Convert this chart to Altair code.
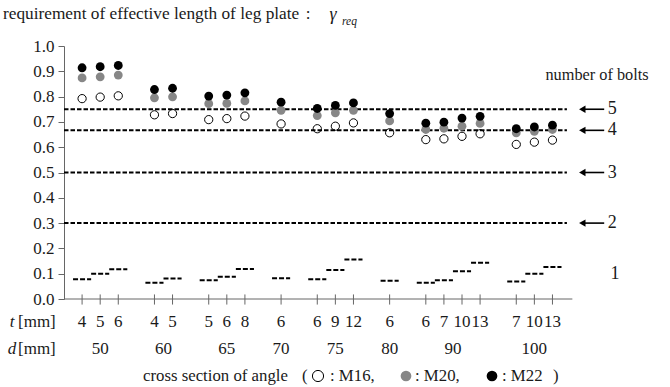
import altair as alt
import pandas as pd

# ---------------- data ----------------
d_groups = [50, 60, 65, 70, 75, 80, 90, 100]
t_groups = [[4, 5, 6], [4, 5], [5, 6, 8], [6], [6, 9, 12], [6], [6, 7, 10, 13], [7, 10, 13]]

m16 = [0.792, 0.798, 0.803, 0.728, 0.733, 0.709, 0.713, 0.723, 0.692,
       0.673, 0.683, 0.696, 0.657, 0.630, 0.633, 0.643, 0.653, 0.611, 0.620, 0.628]
m20 = [0.874, 0.878, 0.885, 0.795, 0.799, 0.772, 0.773, 0.783, 0.746,
       0.725, 0.736, 0.746, 0.704, 0.670, 0.675, 0.683, 0.694, 0.657, 0.663, 0.670]
m22 = [0.914, 0.918, 0.923, 0.828, 0.833, 0.802, 0.806, 0.815, 0.778,
       0.753, 0.765, 0.775, 0.733, 0.695, 0.699, 0.715, 0.722, 0.673, 0.680, 0.687]
one_bolt = [0.078, 0.100, 0.118, 0.064, 0.081, 0.074, 0.088, 0.119, 0.082,
            0.078, 0.115, 0.156, 0.072, 0.064, 0.074, 0.110, 0.143, 0.069, 0.100, 0.126]

bolt_levels = [0.75, 2 / 3, 0.5, 0.3]
bolt_labels = ["5", "4", "3", "2"]
one_bolt_label = "1"
one_bolt_label_y = 0.097
y_ticks = [round(i * 0.1, 1) for i in range(11)]

# ---------------- derived tables ----------------
pos, t_flat, d_center = [], [], []
p = 1
for ts in t_groups:
    start = p
    for t in ts:
        pos.append(p)
        t_flat.append(str(t))
        p += 1
    d_center.append((start + p - 1) / 2)
    p += 1

pts = pd.DataFrame({"pos": pos, "m16": m16, "m20": m20, "m22": m22,
                    "one": one_bolt, "t": t_flat})
pts["a"] = pts["pos"] - 0.5
pts["b"] = pts["pos"] + 0.5
pts["lo"] = -0.022
pts["hi"] = 0.018
dlab = pd.DataFrame({"x": d_center, "d": [str(d) for d in d_groups]})
levels = pd.DataFrame({"lvl": bolt_levels, "lab": bolt_labels, "x0": 0.0, "x1": 27.8,
                       "ax0": 28.65, "ax1": 29.86, "tx": 30.3})
extra = pd.DataFrame({"lab": [one_bolt_label], "lvl": [one_bolt_label_y], "tx": [30.46]})
axis_df = pd.DataFrame({"x0": [0.0], "x1": [28.1], "y": [0.0]})

FONT = "Liberation Serif"
TXT = "#1a1a1a"
AX = "#666666"

xs = alt.Scale(domain=[0, 33], nice=False)
ys = alt.Scale(domain=[0, 1], nice=False)
YAXIS = alt.Axis(values=y_ticks, format=".1f", grid=False,
                 tickSize=6, tickColor=AX, domainColor=AX,
                 labelFont=FONT, labelFontSize=17, labelColor=TXT,
                 labelPadding=4)


def X(f):
    return alt.X(f, scale=xs, axis=None, title=None)


def Y(f):
    return alt.Y(f, scale=ys, title=None, axis=YAXIS)


one = pd.DataFrame({"k": [0]})

# ---------------- layers ----------------
xaxis_line = alt.Chart(axis_df).mark_rule(color=AX, strokeWidth=1).encode(
    x=X("x0:Q"), x2="x1", y=Y("y:Q"))
xticks = alt.Chart(pts).mark_rule(color=AX, strokeWidth=1).encode(
    x=X("pos:Q"), y=Y("lo:Q"), y2="hi:Q")

dashed = alt.Chart(levels).mark_rule(color="black", strokeWidth=2, strokeDash=[4.5, 2]).encode(
    x=X("x0:Q"), x2="x1", y=Y("lvl:Q"))
arrows = alt.Chart(levels).mark_rule(color="black", strokeWidth=1.6).encode(
    x=X("ax0:Q"), x2="ax1", y=Y("lvl:Q"))
heads = alt.Chart(levels).mark_point(shape="triangle-left", filled=True, color="black",
                                     size=55, opacity=1).encode(
    x=X("ax0:Q"), y=Y("lvl:Q"))
lvl_text = alt.Chart(levels).mark_text(font=FONT, fontSize=18, color=TXT, align="center",
                                       baseline="middle").encode(
    x=X("tx:Q"), y=Y("lvl:Q"), text="lab:N")
one_text = alt.Chart(extra).mark_text(font=FONT, fontSize=18, color=TXT, align="center",
                                      baseline="middle").encode(
    x=X("tx:Q"), y=Y("lvl:Q"), text="lab:N")

onebolt = alt.Chart(pts).mark_rule(color="black", strokeWidth=2, strokeDash=[5, 2]).encode(
    x=X("a:Q"), x2="b", y=Y("one:Q"))

p16 = alt.Chart(pts).mark_point(shape="circle", filled=False, color="black", stroke="black",
                                strokeWidth=1, size=68, opacity=1).encode(
    x=X("pos:Q"), y=Y("m16:Q"))
p20 = alt.Chart(pts).mark_circle(color="#878787", size=78, opacity=1).encode(
    x=X("pos:Q"), y=Y("m20:Q"))
p22 = alt.Chart(pts).mark_circle(color="black", size=78, opacity=1).encode(
    x=X("pos:Q"), y=Y("m22:Q"))

t_text = alt.Chart(pts).mark_text(font=FONT, fontSize=17, color=TXT, baseline="middle").encode(
    x=X("pos:Q"), y=alt.value(276), text="t:N")
d_text = alt.Chart(dlab).mark_text(font=FONT, fontSize=17, color=TXT, baseline="middle").encode(
    x=X("x:Q"), y=alt.value(303), text="d:N")


def label(text, x, y, size=17, align="left", style="normal", color=TXT):
    return alt.Chart(one).mark_text(text=text, font=FONT, fontSize=size, color=color,
                                    align=align, baseline="middle", fontStyle=style).encode(
        x=alt.value(x), y=alt.value(y))


def sym(x, y, filled, color, size=125):
    if filled:
        m = alt.Chart(one).mark_circle(color=color, size=size, opacity=1)
    else:
        m = alt.Chart(one).mark_point(shape="circle", filled=False, stroke="black",
                                      strokeWidth=1, size=size, opacity=1)
    return m.encode(x=alt.value(x), y=alt.value(y))


side = [
    label("t", -52, 276, align="center", style="italic"),
    label("[mm]", -46, 276),
    label("d", -52, 303, align="center", style="italic"),
    label("[mm]", -46, 303),
]
title = [
    label("requirement of effective length of leg plate", -61, -32, size=17.3),
    label(":", 244, -32, size=17, align="center"),
    label("γ", 269, -31, size=18, align="center", style="italic"),
    label("req", 278, -24, size=11.5, style="italic"),
    label("number of bolts", 533, 29, size=16.3, align="center"),
]
footer = [
    label("cross section of angle", 79, 330, size=16.8),
    label("(", 238, 330, size=16.8),
    sym(254, 330, False, "black"),
    label(": M16,", 266, 330, size=16.8),
    sym(342, 330, True, "#878787", 115),
    label(": M20,", 351, 330, size=16.8),
    sym(428, 330, True, "black", 115),
    label(": M22", 438, 330, size=16.8),
    label(")", 489, 330, size=16.8),
]

chart = alt.layer(
    dashed, onebolt, xaxis_line, xticks, arrows, heads, lvl_text, one_text,
    p16, p20, p22, t_text, d_text, *side, *title, *footer
).properties(
    width=597, height=253,
    background="white",
    autosize=alt.AutoSizeParams(type="none"),
    padding={"left": 64, "top": 46, "right": 9, "bottom": 88},
).configure_view(stroke=None)

chart.save("out.html", embed_options={"renderer": "svg", "actions": False})
